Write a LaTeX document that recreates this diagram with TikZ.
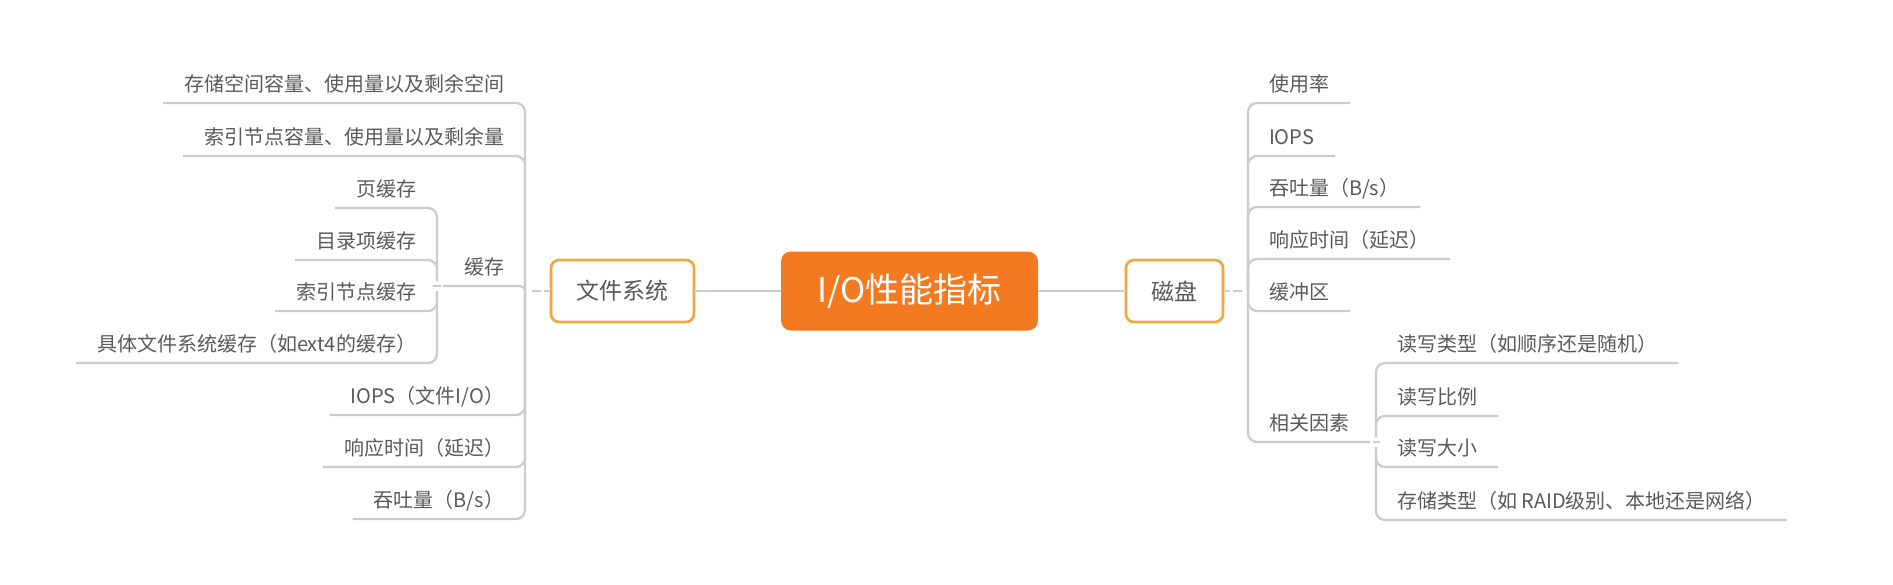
\documentclass[tikz,border=0pt]{standalone}
\usepackage{fontspec}
\setmainfont{Noto Sans CJK SC}
\usetikzlibrary{calc}
\definecolor{txtgray}{HTML}{5A5A5A}
\definecolor{linegray}{HTML}{CCCCCC}
\definecolor{rootorange}{HTML}{F37A21}
\definecolor{boxorange}{HTML}{F0A83C}
\begin{document}
\begin{tikzpicture}[x=1pt,y=-1pt,
  conn/.style={draw=linegray, line width=2.3pt, rounded corners=9pt},
  dashconn/.style={draw=linegray, line width=2.3pt},
  boxdash/.style={dash pattern=on 0pt off 2pt on 5pt off 3pt on 9pt off 40pt},
  leaf/.style={font=\fontsize{20}{24}\selectfont, text=txtgray, inner xsep=21pt, inner ysep=12pt, text height=15pt, text depth=0pt, outer sep=0pt},
  branch/.style={draw=boxorange, line width=2.7pt, fill=white, rounded corners=8pt, font=\fontsize{23}{28}\selectfont, text=txtgray, minimum height=62pt, inner xsep=0pt, outer sep=0pt},
  rootbox/.style={fill=rootorange, rounded corners=10pt, font=\fontsize{34}{40}\selectfont, text=white, minimum width=257pt, minimum height=79pt, outer sep=0pt, inner sep=0pt}]

\useasboundingbox (0,0) rectangle (1893,584);

% central and main branches
\node[rootbox] (root) at (909.5,291) {I/O性能指标};
\node[branch, minimum width=143pt] (fs) at (622.5,291) {文件系统};
\node[branch, minimum width=97pt] (disk) at (1174.5,291) {磁盘};

% junctions
\coordinate (jl) at (525,291);
\coordinate (jr) at (1248,291);
\coordinate (jcu) at (437,281);
\coordinate (jcb) at (437,291);
\coordinate (jcd) at (433,286);
\coordinate (jfu) at (1376,437);
\coordinate (jfb) at (1376,447);
\coordinate (jfd) at (1380,442);

% left children
\node[leaf, anchor=south east] (l1) at (525,103) {存储空间容量、使用量以及剩余空间};
\node[leaf, anchor=south east] (l2) at (525,156) {索引节点容量、使用量以及剩余量};
\node[leaf, anchor=south east] (l3) at (525,286) {缓存};
\node[leaf, anchor=south east] (l4) at (525,415) {IOPS（文件I/O）};
\node[leaf, anchor=south east] (l5) at (525,467) {响应时间（延迟）};
\node[leaf, anchor=south east] (l6) at (525,519) {吞吐量（B/s）};

% cache children
\node[leaf, anchor=south east] (k1) at (437,208) {页缓存};
\node[leaf, anchor=south east] (k2) at (437,260) {目录项缓存};
\node[leaf, anchor=south east] (k3) at (437,311) {索引节点缓存};
\node[leaf, anchor=south east] (k4) at (437,363) {具体文件系统缓存（如ext4的缓存）};

% right children
\node[leaf, anchor=south west] (r1) at (1248,103) {使用率};
\node[leaf, anchor=south west] (r2) at (1248,156) {IOPS};
\node[leaf, anchor=south west] (r3) at (1248,207) {吞吐量（B/s）};
\node[leaf, anchor=south west] (r4) at (1248,259) {响应时间（延迟）};
\node[leaf, anchor=south west] (r5) at (1248,311) {缓冲区};
\node[leaf, anchor=south west] (r6) at (1248,442) {相关因素};

% factor children
\node[leaf, anchor=south west] (f1) at (1376,363) {读写类型（如顺序还是随机）};
\node[leaf, anchor=south west] (f2) at (1376,416) {读写比例};
\node[leaf, anchor=south west] (f3) at (1376,467) {读写大小};
\node[leaf, anchor=south west] (f4) at (1376,520) {存储类型（如 RAID级别、本地还是网络）};

% main connectors
\draw[conn] (fs) -- (root);
\draw[conn] (root) -- (disk);
\draw[dashconn, boxdash] (fs.west) -- (jl);
\draw[dashconn, boxdash] (disk.east) -- (jr);

% left spine
\draw[conn] (l1.south west) -| (jl);
\draw[conn] (l2.south west) -| (jl);
\draw[conn, rounded corners=5pt] (l3.south west) -| (jl);
\draw[conn] (l4.south west) -| (jl);
\draw[conn] (l5.south west) -| (jl);
\draw[conn] (l6.south west) -| (jl);

% cache spine
\draw[dashconn, dash pattern=on 0pt off 2pt on 8pt off 20pt] (l3.south west) -- (jcd);
\draw[conn] (k1.south west) -| (jcu);
\draw[conn] (k2.south west) -| (jcu);
\draw[conn] (k3.south west) -| (jcb);
\draw[conn] (k4.south west) -| (jcb);

% right spine
\draw[conn] (r1.south east) -| (jr);
\draw[conn] (r2.south east) -| (jr);
\draw[conn] (r3.south east) -| (jr);
\draw[conn] (r4.south east) -| (jr);
\draw[conn] (r5.south east) -| (jr);
\draw[conn] (r6.south east) -| (jr);

% factor spine
\draw[dashconn, dash pattern=on 0pt off 3pt on 7pt off 20pt] (r6.south east) -- (jfd);
\draw[conn] (f1.south east) -| (jfu);
\draw[conn] (f2.south east) -| (jfu);
\draw[conn] (f3.south east) -| (jfb);
\draw[conn] (f4.south east) -| (jfb);
\end{tikzpicture}
\end{document}
